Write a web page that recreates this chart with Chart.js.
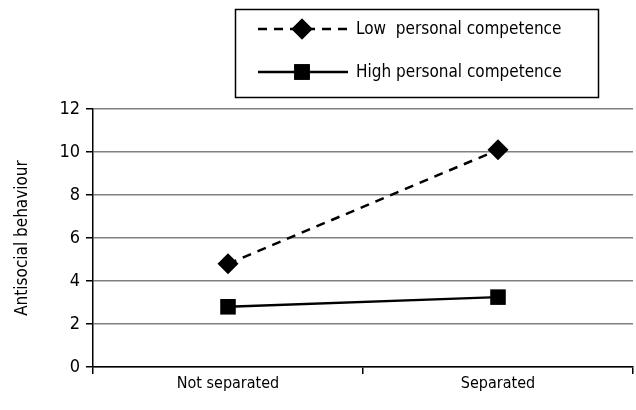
<!DOCTYPE html>
<html>
<head>
<meta charset="utf-8">
<script src="https://cdn.jsdelivr.net/npm/chart.js@4/dist/chart.umd.min.js"></script>
<style>
  html, body { margin: 0; padding: 0; background: #fff; overflow: hidden; }
  #wrap { width: 636px; height: 410px; }
  canvas { display: block; }
</style>
</head>
<body>
<div id="wrap"><canvas id="chart" width="636" height="410"></canvas></div>
<script>
// data
const categories = ["Not separated", "Separated"];
const lowCompetence = [4.8, 10.1];
const highCompetence = [2.8, 3.25];
const seriesNames = ["Low  personal competence", "High personal competence"];
const yTitle = "Antisocial behaviour";

const FONT = "'Liberation Sans Narrow', 'DejaVu Sans Condensed', 'Arial Narrow', sans-serif";

// 凡例を枠付きで描く
const boxLegend = {
    id: 'boxLegend',
    afterDraw(chart) {
        const ctx = chart.ctx;
        ctx.save();
        ctx.strokeStyle = '#000';
        ctx.lineWidth = 1.5;
        ctx.strokeRect(235.5, 9.5, 363, 88);
        const rows = [29, 72];
        chart.data.datasets.forEach((ds, i) => {
            const y = rows[i];
            ctx.strokeStyle = '#000';
            ctx.lineWidth = 2.5;
            ctx.setLineDash(ds.borderDash || []);
            ctx.beginPath();
            ctx.moveTo(258, y);
            ctx.lineTo(348, y);
            ctx.stroke();
            ctx.setLineDash([]);
            Chart.helpers.drawPoint(ctx, {
                pointStyle: ds.pointStyle,
                radius: ds.pointRadius,
                rotation: 0,
                borderWidth: 0
            }, 302, y);
            ctx.fillStyle = '#000';
            ctx.fill();
            ctx.font = "17px " + FONT;
            ctx.textBaseline = 'middle';
            ctx.fillText(ds.label, 356, y + 1);
        });
        ctx.restore();
    }
};

new Chart(document.getElementById("chart"), {
    type: 'line',
    data: {
        labels: categories,
        datasets: [{
            label: seriesNames[0],
            data: lowCompetence,
            borderColor: '#000',
            backgroundColor: '#000',
            borderWidth: 2.5,
            borderDash: [9, 7],
            pointStyle: 'rectRot',
            pointRadius: 10.5,
            pointBorderWidth: 0
        }, {
            label: seriesNames[1],
            data: highCompetence,
            borderColor: '#000',
            backgroundColor: '#000',
            borderWidth: 2.5,
            pointStyle: 'rect',
            pointRadius: 11,
            pointBorderWidth: 0
        }]
    },
    options: {
        responsive: false,
        animation: false,
        layout: {
            autoPadding: false,
            padding: { top: 109, right: 3, left: 0, bottom: 0 }
        },
        plugins: {
            legend: { display: false },
            tooltip: { enabled: false }
        },
        scales: {
            x: {
                offset: true,
                grid: {
                    offset: true,
                    drawOnChartArea: false,
                    color: '#000',
                    lineWidth: 1.5,
                    tickLength: 7
                },
                border: { color: '#000', width: 1.5 },
                ticks: {
                    color: '#000',
                    font: { family: FONT, size: 16 },
                    padding: 0
                },
                afterFit(scale) {
                    scale.height = 43;
                    scale.paddingLeft = 0;
                    scale.paddingRight = 0;
                }
            },
            y: {
                min: 0,
                max: 12,
                ticks: {
                    stepSize: 2,
                    color: '#000',
                    font: { family: FONT, size: 18 },
                    padding: 6
                },
                grid: {
                    color: '#808080',
                    lineWidth: 1.5,
                    tickLength: 7,
                    tickColor: '#000'
                },
                border: { color: '#000', width: 1.5 },
                title: {
                    display: true,
                    text: yTitle,
                    color: '#000',
                    font: { family: FONT, size: 17 },
                    padding: { top: 12, bottom: 14 }
                },
                afterFit(scale) { scale.width = 93; }
            }
        }
    },
    plugins: [boxLegend]
});
</script>
</body>
</html>
